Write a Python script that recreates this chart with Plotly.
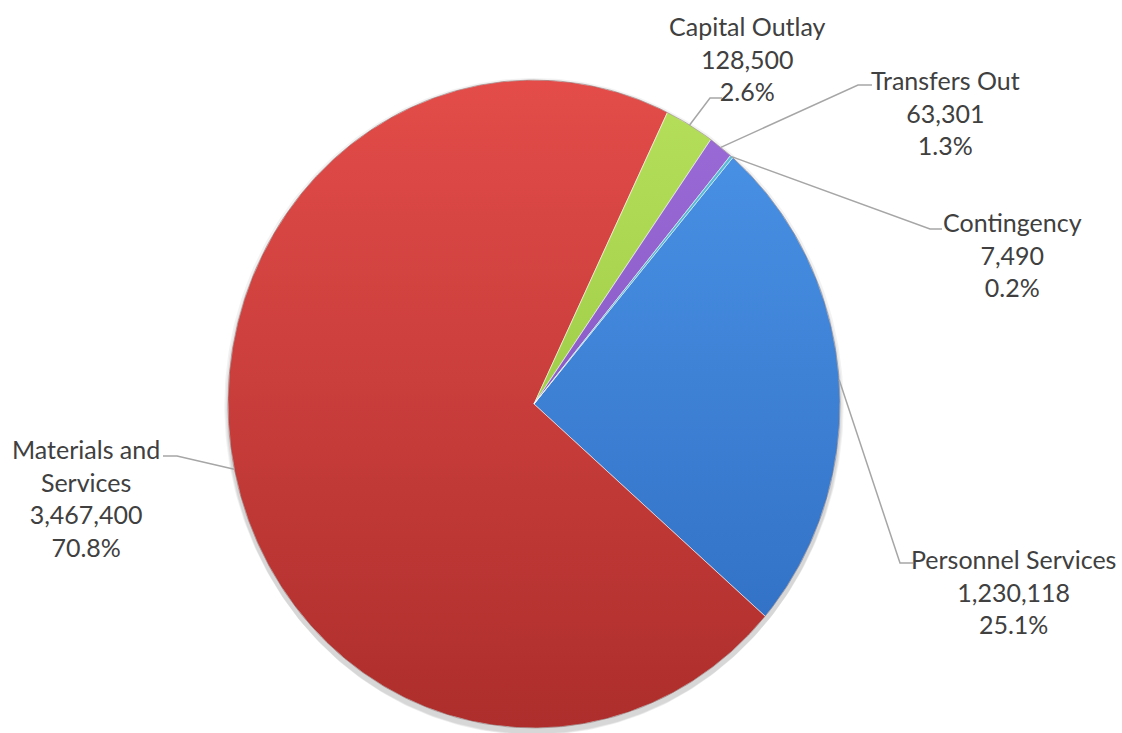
import numpy as np
import plotly.graph_objects as go

# Budget by category (clockwise from the first slice)
categories = ["Personnel Services", "Materials and Services", "Capital Outlay",
              "Transfers Out", "Contingency"]
amounts = [1230118, 3467400, 128500, 63301, 7490]
label_titles = ["Personnel Services", "Materials and<br>Services", "Capital Outlay",
                "Transfers Out", "Contingency"]

# Slice colours: lighter at the top of the pie, darker at the bottom
top_colors = ["#4b95e8", "#e34c49", "#b6e05c", "#9c6cd8", "#5cc0dc"]
bottom_colors = ["#2e6bc0", "#ad2e2c", "#8cbd38", "#7a4db5", "#3a9ab8"]

# Page geometry (pixels)
W, H = 1122, 733
CX, CY = 534, 404          # pie centre
RX, RY = 306, 324          # horizontal / vertical radius
START_DEG = 40.5           # angle of the first slice edge, clockwise from 12 o'clock

# Label block centres and leader-line elbows/ends (pixels)
label_layout = {
    "Personnel Services":     dict(x=1013, y=591, elbow=(900, 563), end=(913, 563)),
    "Materials and Services": dict(x=86,   y=498, elbow=(177, 456), end=(163, 456)),
    "Capital Outlay":         dict(x=747,  y=58,  elbow=(710, 98),  end=(722, 98)),
    "Transfers Out":          dict(x=945,  y=112, elbow=(858, 85),  end=(872, 85)),
    "Contingency":            dict(x=1012, y=254, elbow=(930, 229), end=(942, 229)),
}


def ux(px):
    return (px - CX) / RX


def uy(py):
    return (CY - py) / RY


total = sum(amounts)
fig = go.Figure()

# soft drop shadow under the pie
full = np.radians(np.linspace(0, 360, 361))
for k, alpha in enumerate([0.05, 0.05, 0.06]):
    s = 1.0 + 0.004 * (3 - k)
    fig.add_trace(go.Scatter(
        x=s * np.sin(full), y=s * np.cos(full) - 0.006 * (k + 1),
        mode="lines", fill="toself", line=dict(width=0),
        fillcolor=f"rgba(0,0,0,{alpha})", hoverinfo="skip", showlegend=False))

angle = START_DEG
mid_angles = []
for i, v in enumerate(amounts):
    span = v / total * 360.0
    a0, a1 = angle, angle + span
    n = max(3, int(span / 0.4) + 2)
    th = np.radians(np.linspace(a0, a1, n))
    xs = np.concatenate([[0.0], np.sin(th), [0.0]])
    ys = np.concatenate([[0.0], np.cos(th), [0.0]])
    fig.add_trace(go.Scatter(
        x=xs, y=ys, mode="lines", fill="toself",
        fillcolor=top_colors[i],
        fillgradient=dict(type="vertical", start=-1, stop=1,
                          colorscale=[[0, bottom_colors[i]], [1, top_colors[i]]]),
        line=dict(color="rgba(255,255,255,0.55)", width=1),
        name=categories[i], hoverinfo="skip", showlegend=False))
    mid_angles.append((a0 + a1) / 2.0)
    angle = a1

# thin dark rim around the pie
fig.add_trace(go.Scatter(
    x=np.sin(full), y=np.cos(full), mode="lines",
    line=dict(color="rgba(70,40,40,0.35)", width=1),
    hoverinfo="skip", showlegend=False))

# leader lines and labels
for i, name in enumerate(categories):
    lay = label_layout[name]
    t = np.radians(mid_angles[i])
    ex, ey = np.sin(t), np.cos(t)
    fig.add_trace(go.Scatter(
        x=[ex, ux(lay["elbow"][0]), ux(lay["end"][0])],
        y=[ey, uy(lay["elbow"][1]), uy(lay["end"][1])],
        mode="lines", line=dict(color="#a6a6a6", width=1.5),
        hoverinfo="skip", showlegend=False))
    pct = amounts[i] / total * 100
    fig.add_annotation(
        x=ux(lay["x"]), y=uy(lay["y"]), xref="x", yref="y",
        text=f"{label_titles[i]}<br>{amounts[i]:,}<br>{pct:.1f}%",
        showarrow=False, align="center", xanchor="center", yanchor="middle",
        font=dict(family="Lato, Carlito, Calibri, sans-serif", size=25, color="#404040"))

fig.update_xaxes(range=[ux(0), ux(W)], visible=False, fixedrange=True)
fig.update_yaxes(range=[uy(H), uy(0)], visible=False, fixedrange=True)
fig.update_layout(
    width=W, height=H, margin=dict(l=0, r=0, t=0, b=0),
    paper_bgcolor="white", plot_bgcolor="white", showlegend=False)

fig.write_html("out.html")
